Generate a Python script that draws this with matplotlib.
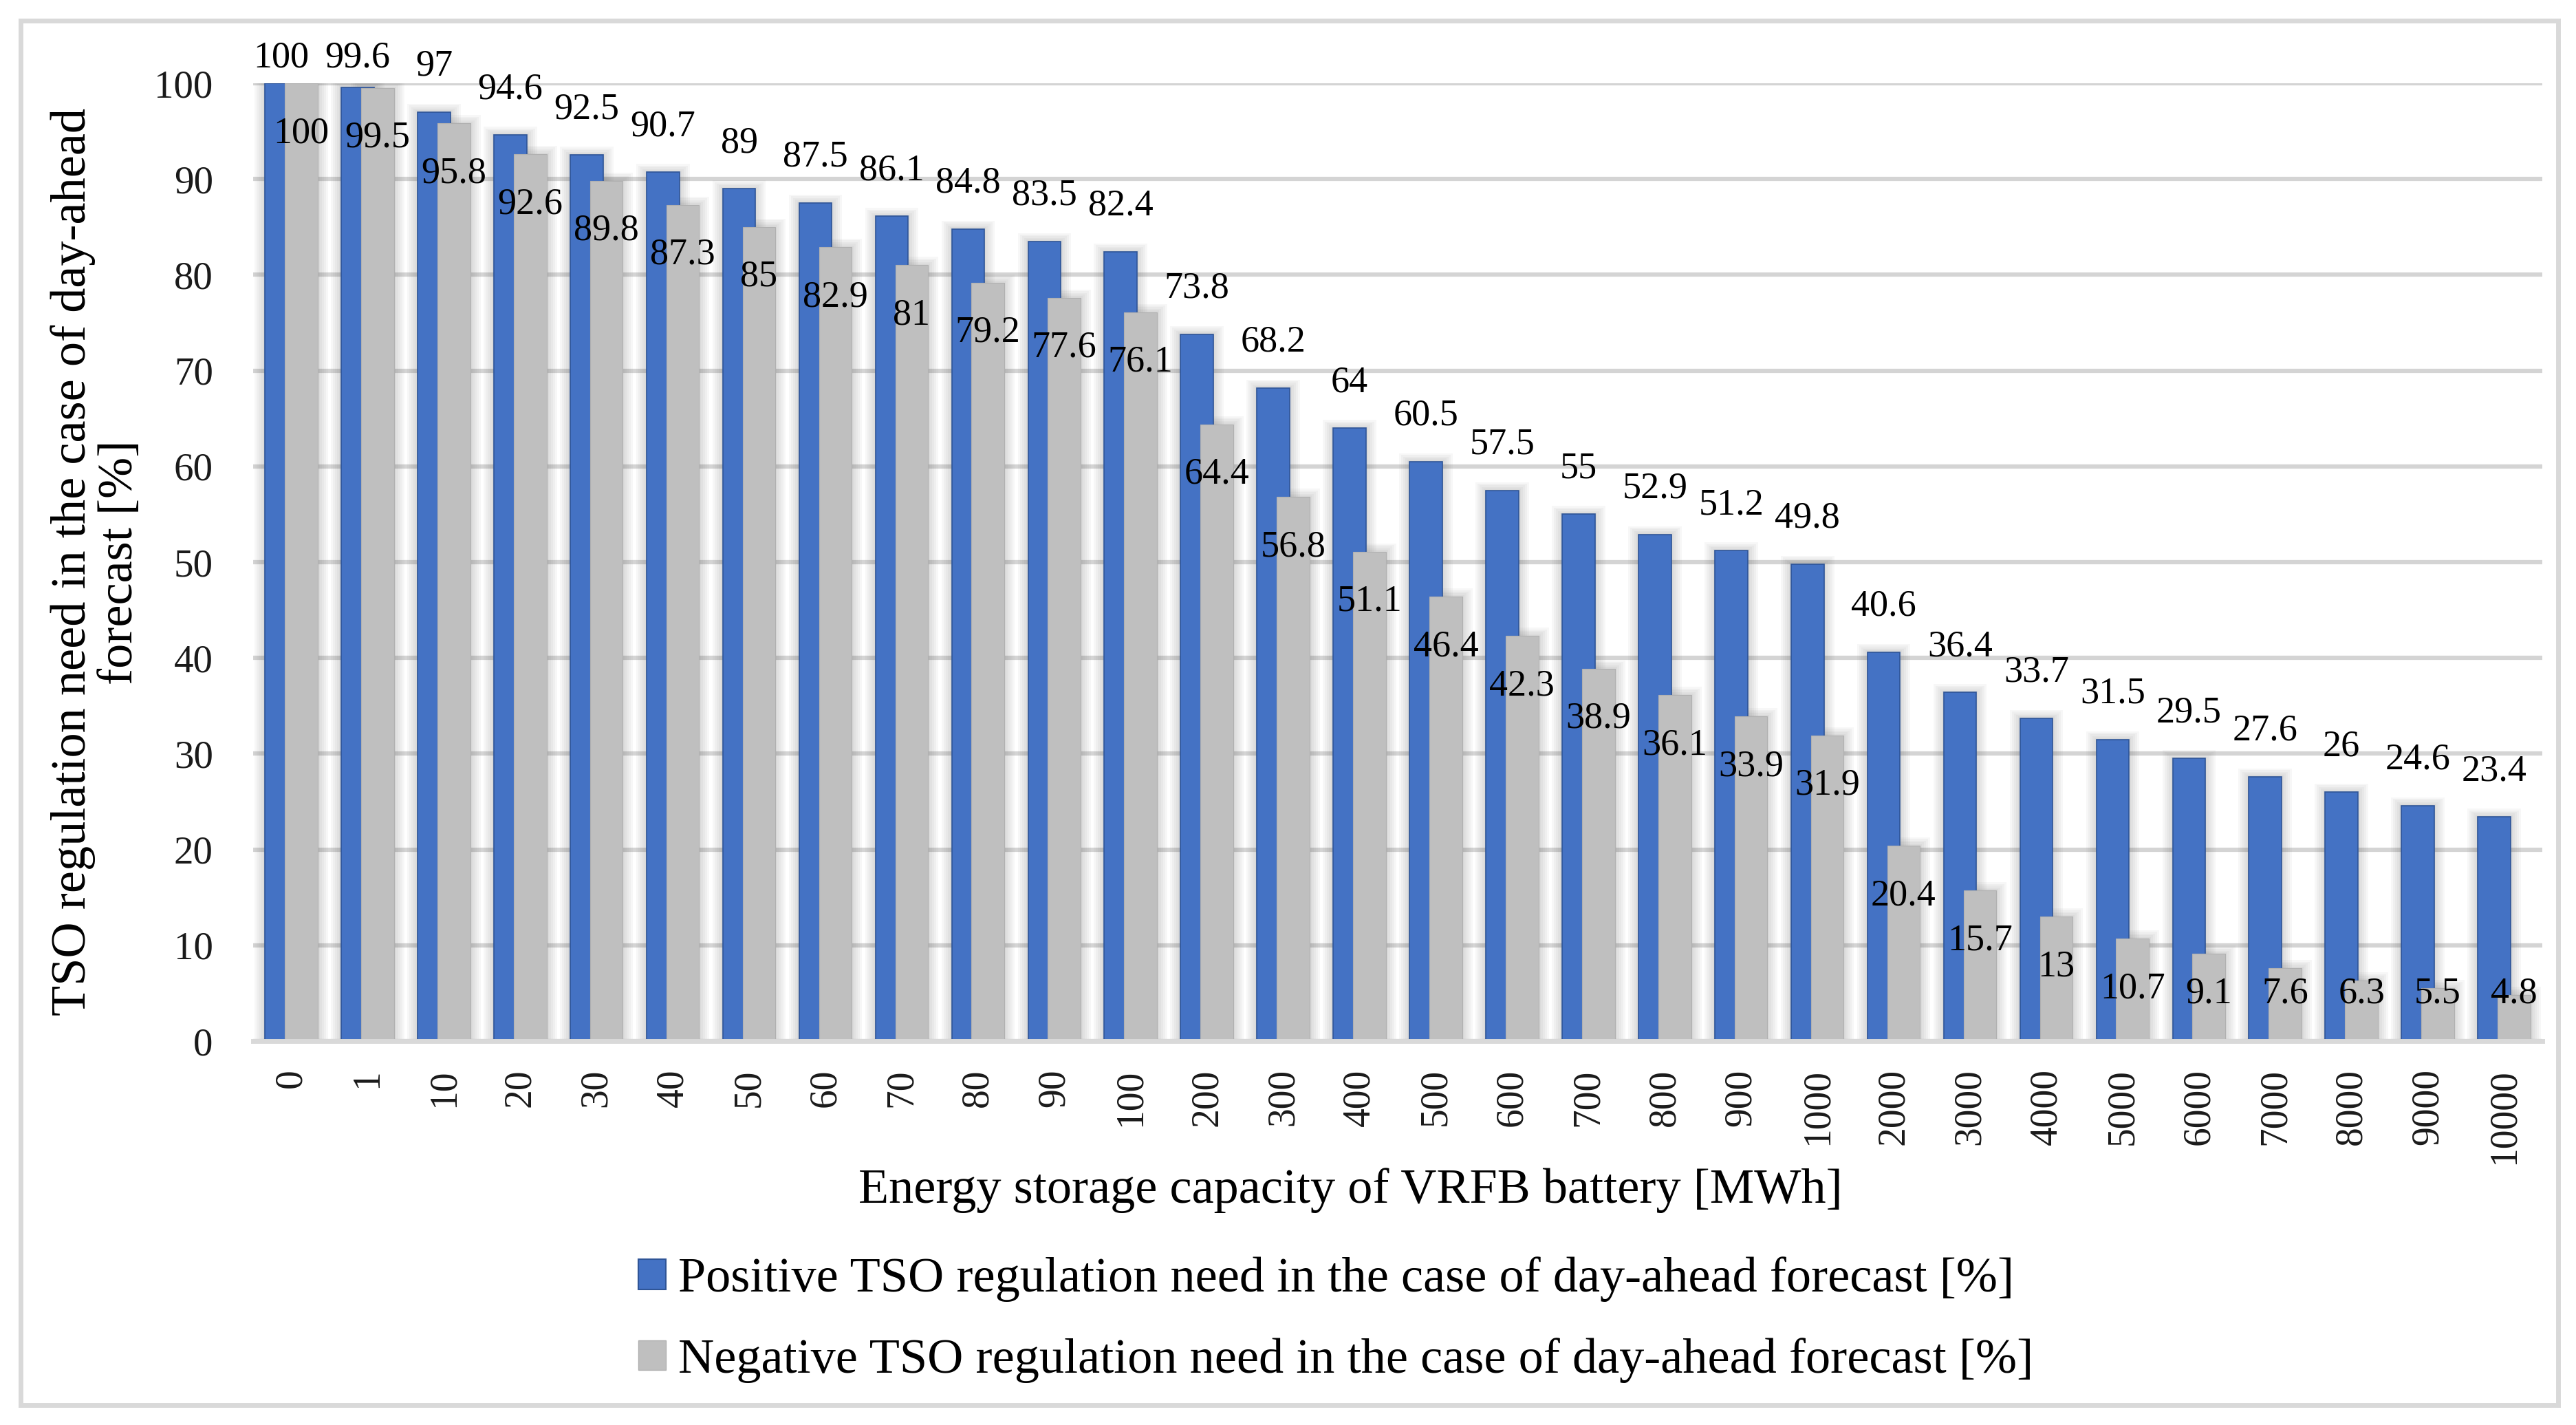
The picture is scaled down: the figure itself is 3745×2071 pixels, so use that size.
import matplotlib
matplotlib.use("Agg")
import matplotlib.pyplot as plt
from matplotlib.patches import Patch, Rectangle
import numpy as np

# ---------------- data ----------------
categories = ['0', '1', '10', '20', '30', '40', '50', '60', '70', '80', '90', '100',
              '200', '300', '400', '500', '600', '700', '800', '900', '1000',
              '2000', '3000', '4000', '5000', '6000', '7000', '8000', '9000', '10000']
positive = [100, 99.6, 97, 94.6, 92.5, 90.7, 89, 87.5, 86.1, 84.8, 83.5, 82.4,
            73.8, 68.2, 64, 60.5, 57.5, 55, 52.9, 51.2, 49.8,
            40.6, 36.4, 33.7, 31.5, 29.5, 27.6, 26, 24.6, 23.4]
negative = [100, 99.5, 95.8, 92.6, 89.8, 87.3, 85, 82.9, 81, 79.2, 77.6, 76.1,
            64.4, 56.8, 51.1, 46.4, 42.3, 38.9, 36.1, 33.9, 31.9,
            20.4, 15.7, 13, 10.7, 9.1, 7.6, 6.3, 5.5, 4.8]
yticks = [0, 10, 20, 30, 40, 50, 60, 70, 80, 90, 100]
label_pos = 'Positive TSO regulation need in the case of day-ahead forecast [%]'
label_neg = 'Negative TSO regulation need in the case of day-ahead forecast [%]'
xlabel = 'Energy storage capacity of VRFB battery [MWh]'
ylabel = 'TSO regulation need in the case of day-ahead\nforecast [%]'

# ---------------- style ----------------
W, H, DPI = 3745, 2071, 100
FONT = 'Liberation Serif'
plt.rcParams['font.family'] = [FONT, 'DejaVu Serif']
BLUE, BLUE_EDGE = '#4472C4', '#2F5597'
GRAY, GRAY_EDGE = '#BFBFBF', '#B0B0B0'
GRID = '#D4D4D4'
BIG = 52

fig = plt.figure(figsize=(W / DPI, H / DPI), dpi=DPI)
fig.patch.set_facecolor('white')

ax_l, ax_r, ax_t, ax_b = 368, 3696, 121, 1513
ax = fig.add_axes([ax_l / W, 1 - ax_b / H, (ax_r - ax_l) / W, (ax_b - ax_t) / H])

x = np.arange(len(categories))
pos = np.array(positive, dtype=float)
neg = np.array(negative, dtype=float)
bw = 0.43
off = 0.13

px_x = 1.0 / ((ax_r - ax_l) / len(categories))   # data units per px (x)
px_y = 100.0 / (ax_b - ax_t)                     # data units per px (y)

# soft shadow halos
for e in [3, 6, 9, 12, 15]:
    for xs, vals in ((x - off, pos), (x + off, neg)):
        ax.bar(xs, vals + e * px_y * 0.8, width=bw + 2 * e * px_x, color='#303030',
               alpha=0.035, linewidth=0, zorder=2)

ax.bar(x - off, pos, width=bw, color=BLUE, edgecolor=BLUE_EDGE, linewidth=1.2, zorder=3)
ax.bar(x + off, neg, width=bw, color=GRAY, edgecolor=GRAY_EDGE, linewidth=0.8, zorder=4)

# data labels
pos_gap = 53 * px_y
neg_gap = 86 * px_y
top_clamp = 100 + 24 * px_y
bot_clamp = 56 * px_y
for xi, v in zip(x, pos):
    ax.text(xi - off, min(v + pos_gap, top_clamp), f'{v:g}', ha='center', va='baseline',
            fontsize=39, color='black', zorder=6, clip_on=False)
for xi, v in zip(x, neg):
    ax.text(xi + off, max(v - neg_gap, bot_clamp), f'{v:g}', ha='center', va='baseline',
            fontsize=39, color='black', zorder=6, clip_on=False)

ax.set_xlim(-0.5, len(categories) - 0.5)
ax.set_ylim(0, 100)
ax.set_yticks(yticks)
ax.set_xticks(x)
ax.set_xticklabels(categories, rotation=90, va='top', ha='center')
ax.tick_params(axis='x', length=0, pad=29, labelsize=40, colors='#1a1a1a')
ax.tick_params(axis='y', length=0, pad=42, labelsize=41, colors='#1a1a1a')

ax.set_axisbelow(True)
ax.yaxis.grid(True, color=GRID, linewidth=4.5)
ax.xaxis.grid(False)
for s in ['left', 'right', 'top']:
    ax.spines[s].set_visible(False)
ax.spines['bottom'].set_color('#D9D9D9')
ax.spines['bottom'].set_linewidth(5)
ax.spines['bottom'].set_zorder(5)

ax.set_xlabel(xlabel, fontsize=BIG, va='baseline')
ax.xaxis.set_label_coords((1963 - ax_l) / (ax_r - ax_l), -(1748 - ax_b) / (ax_b - ax_t))
ax.set_ylabel(ylabel, fontsize=BIG, va='center', linespacing=1.05, multialignment='center')
ax.yaxis.set_label_coords((140 - ax_l) / (ax_r - ax_l), 0.5)

handles = [Patch(facecolor=BLUE, edgecolor=BLUE_EDGE, linewidth=1.5),
           Patch(facecolor=GRAY, edgecolor=GRAY_EDGE, linewidth=1)]
fig.legend(handles, [label_pos, label_neg], loc='center left',
           bbox_to_anchor=(928 / W, 1 - 1918.5 / H), frameon=False, fontsize=BIG,
           handlelength=0.55, handleheight=0.55, handletextpad=0.25, labelspacing=0.72,
           borderpad=0, borderaxespad=0)

# outer chart border
fig.patches.append(Rectangle((30 / W, 1 - 2042 / H), (3719 - 30) / W, (2042 - 30) / H,
                             transform=fig.transFigure, fill=False, edgecolor='#D9D9D9',
                             linewidth=5, zorder=0))

fig.savefig('out.png', dpi=DPI, facecolor='white')
